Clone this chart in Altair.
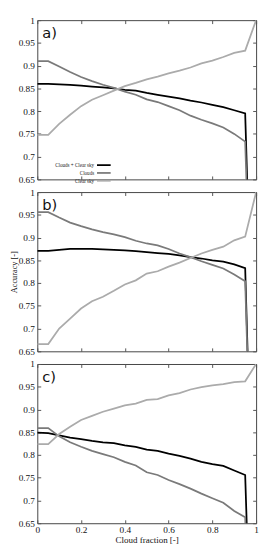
import altair as alt
import pandas as pd

# ---- data ----
cloud_fraction = [0.0, 0.05, 0.1, 0.15, 0.2, 0.25, 0.3, 0.35, 0.4, 0.45, 0.5,
                  0.55, 0.6, 0.65, 0.7, 0.75, 0.8, 0.85, 0.9, 0.95, 1.0]
series_names = ["Clouds + Clear sky", "Clouds", "Clear sky"]
series_colors = ["#000000", "#7a7a7a", "#ababab"]
series_widths = [1.8, 1.8, 1.0]
panel_labels = ["a)", "b)", "c)"]

a_both = [0.860, 0.860, 0.859, 0.858, 0.856, 0.854, 0.852, 0.850, 0.847, 0.845, 0.840,
          0.836, 0.832, 0.828, 0.823, 0.819, 0.814, 0.809, 0.802, 0.795, 0.0]
a_clouds = [0.910, 0.910, 0.898, 0.886, 0.875, 0.866, 0.858, 0.851, 0.843, 0.836, 0.826,
            0.820, 0.811, 0.802, 0.790, 0.781, 0.773, 0.764, 0.750, 0.733, 0.0]
a_clear = [0.748, 0.748, 0.772, 0.792, 0.811, 0.825, 0.835, 0.845, 0.855, 0.862, 0.870,
           0.876, 0.883, 0.889, 0.896, 0.905, 0.911, 0.919, 0.928, 0.933, 1.0]

b_both = [0.871, 0.871, 0.873, 0.875, 0.875, 0.875, 0.874, 0.873, 0.872, 0.870, 0.868,
          0.866, 0.864, 0.861, 0.857, 0.854, 0.850, 0.847, 0.841, 0.833, 0.0]
b_clouds = [0.956, 0.956, 0.944, 0.933, 0.925, 0.918, 0.912, 0.907, 0.901, 0.893, 0.887,
            0.883, 0.875, 0.865, 0.857, 0.848, 0.840, 0.832, 0.819, 0.804, 0.0]
b_clear = [0.666, 0.666, 0.700, 0.722, 0.744, 0.760, 0.770, 0.783, 0.797, 0.806, 0.821,
           0.826, 0.836, 0.845, 0.855, 0.865, 0.873, 0.880, 0.894, 0.902, 1.0]

c_both = [0.849, 0.848, 0.843, 0.838, 0.835, 0.831, 0.828, 0.826, 0.821, 0.818, 0.812,
          0.809, 0.803, 0.798, 0.792, 0.785, 0.780, 0.776, 0.766, 0.756, 0.0]
c_clouds = [0.859, 0.859, 0.841, 0.828, 0.818, 0.809, 0.802, 0.795, 0.785, 0.777, 0.762,
            0.756, 0.745, 0.736, 0.726, 0.715, 0.705, 0.695, 0.677, 0.663, 0.0]
c_clear = [0.824, 0.824, 0.846, 0.862, 0.877, 0.886, 0.895, 0.902, 0.909, 0.913, 0.921,
           0.923, 0.931, 0.936, 0.944, 0.949, 0.953, 0.956, 0.960, 0.962, 1.0]

x_ticks = [0.0, 0.2, 0.4, 0.6, 0.8, 1.0]
y_ticks = [0.65, 0.7, 0.75, 0.8, 0.85, 0.9, 0.95, 1.0]


def make_df(arrays):
    rows = []
    for name, arr in zip(series_names, arrays):
        for xv, yv in zip(cloud_fraction, arr):
            rows.append({"cf": xv, "series": name, "acc": yv})
    return pd.DataFrame(rows)


W, H, TK = 224, 163, 3.5
SERIF = "Liberation Serif"


def panel(df, label, show_x_labels, show_y_title, show_legend):
    xs = alt.Scale(domain=[0, 1], nice=False, zero=False)
    ys = alt.Scale(domain=[0.65, 1], nice=False, zero=False)
    if show_legend:
        legend = alt.Legend(orient="none", legendX=65.5, legendY=145.8, title=None,
                            symbolType="M-4.67,0L4.67,0", symbolSize=9, labelAlign="right",
                            labelOffset={"expr": "-12.5"}, labelFont=SERIF, labelFontSize=5.2,
                            labelColor="#222", rowPadding=0, padding=0)
    else:
        legend = None
    color = alt.Color("series:N", scale=alt.Scale(domain=series_names, range=series_colors),
                      legend=legend)
    width = alt.StrokeWidth("series:N", scale=alt.Scale(domain=series_names, range=series_widths),
                            legend=legend)
    xaxis = alt.Axis(orient="bottom", values=x_ticks, format=".1~f", labels=show_x_labels,
                     title="Cloud fraction [-]" if show_x_labels else None,
                     titleFontSize=9.2,
                     tickSize=TK, offset=-TK, domain=False, grid=False, minExtent=0,
                     labelPadding=2, titlePadding=1, labelFlush=False, labelOverlap=False)
    yaxis = alt.Axis(orient="left", values=y_ticks, format=".2~f",
                     title="Accuracy [-]" if show_y_title else None,
                     titleFontSize=8.5,
                     tickSize=TK, offset=-TK, domain=False, grid=False, minExtent=0,
                     labelPadding=3, titlePadding=0, labelFlush=False, labelOverlap=False)
    lines = alt.Chart(df).mark_line(clip=True).encode(
        x=alt.X("cf:Q", scale=xs, axis=xaxis),
        y=alt.Y("acc:Q", scale=ys, axis=yaxis),
        color=color,
        strokeWidth=width,
    )
    mirror = alt.Chart(df).mark_line(opacity=0, clip=True).encode(
        x=alt.X("cf:Q", scale=xs, axis=alt.Axis(orient="top", values=x_ticks, labels=False,
                                                 title=None, tickSize=TK, offset=-TK,
                                                 minExtent=0, maxExtent=0,
                                                 domain=False, grid=False)),
        y=alt.Y("acc:Q", scale=ys, axis=alt.Axis(orient="right", values=y_ticks, labels=False,
                                                  title=None, tickSize=TK, offset=-TK,
                                                  minExtent=0, maxExtent=0,
                                                  domain=False, grid=False)),
        detail="series:N",
    )
    text = alt.Chart(pd.DataFrame({"label": [label]})).mark_text(
        font="DejaVu Sans", fontSize=15, align="left", baseline="alphabetic", color="#111"
    ).encode(x=alt.value(5), y=alt.value(18), text="label:N")
    return alt.layer(lines, mirror, text).resolve_axis(
        x="independent", y="independent"
    ).properties(width=W, height=H)


pa = panel(make_df([a_both, a_clouds, a_clear]), panel_labels[0], False, False, True)
pb = panel(make_df([b_both, b_clouds, b_clear]), panel_labels[1], False, True, False)
pc = panel(make_df([c_both, c_clouds, c_clear]), panel_labels[2], True, False, False)

chart = alt.vconcat(pa, pb, pc, spacing=13, bounds="flush").resolve_scale(
    color="independent", strokeWidth="independent"
).configure_view(
    stroke="#444", strokeWidth=1
).configure_axis(
    labelFont=SERIF, labelFontSize=9.5, labelColor="#111",
    titleFont=SERIF, titleFontWeight="normal", titleColor="#111",
    tickColor="#555", tickWidth=1
).properties(padding={"left": 0, "top": 0, "right": 2, "bottom": 0})

chart.save("out.html", embed_options={"renderer": "svg", "actions": False})
